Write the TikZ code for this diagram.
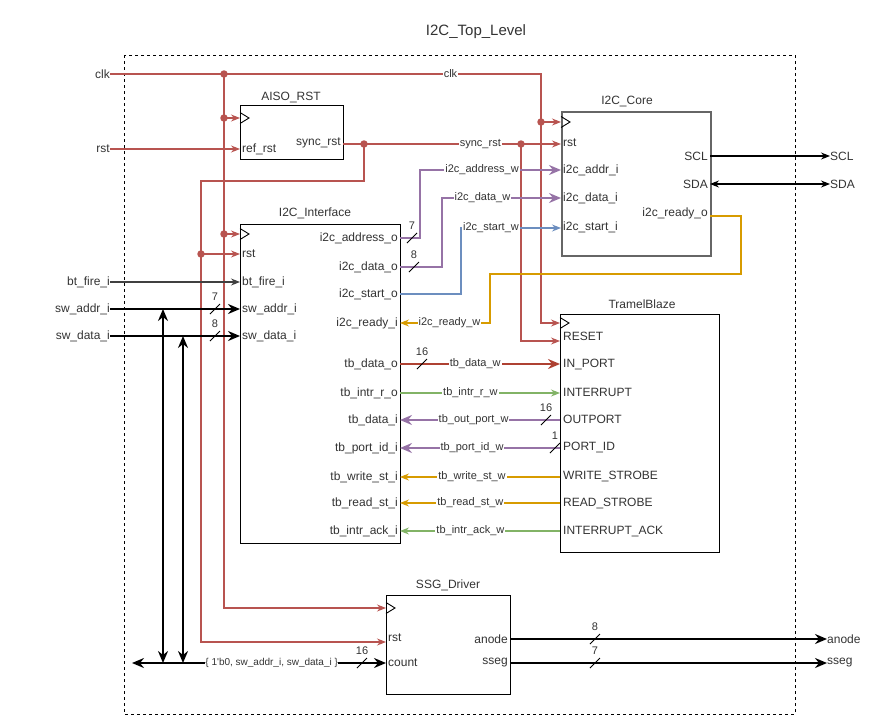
\documentclass[tikz,border=0pt]{standalone}
\usepackage{fontspec}
\setmainfont{Liberation Sans}
\usetikzlibrary{arrows.meta}

\definecolor{rstred}{HTML}{B85450}
\definecolor{buspurple}{HTML}{9673A6}
\definecolor{busbrown}{HTML}{AE4132}
\definecolor{sigyellow}{HTML}{D79B00}
\definecolor{siggreen}{HTML}{82B366}
\definecolor{sigblue}{HTML}{6C8EBF}
\definecolor{coregray}{HTML}{666666}
\definecolor{inkgray}{HTML}{333333}

% clock input triangle on the left edge of a block (#1: point name)
\newcommand{\clockmark}[1]{\draw[line width=0.9pt,black] ([yshift=5.5pt]#1) -- ([xshift=9pt]#1) -- ([yshift=-5.5pt]#1);}
% bus width slash with its bit count: #1 point, #2 count, #3 node name
\newcommand{\widthmark}[3]{%
  \draw[line width=0.8pt,black] ([shift={(-5,5)}]#1) -- ([shift={(5,-5)}]#1);
  \node[font=\fontsize{11}{12}\selectfont, inner sep=0pt] (#3) at ([shift={(0,-12)}]#1) {#2};}

\begin{document}
\begin{tikzpicture}[x=1pt,y=-1pt,
  every node/.style={text=inkgray},
  blk/.style={draw=black, line width=1pt, fill=white, inner sep=0pt, anchor=north west},
  coreblk/.style={blk, draw=coregray, line width=1.6pt},
  lbl/.style={inner sep=0pt, font=\fontsize{12}{14}\selectfont},
  pinl/.style={lbl, anchor=west},
  pinr/.style={lbl, anchor=east},
  wirelbl/.style={fill=white, inner sep=1pt, font=\fontsize{11}{13}\selectfont},
  sig/.style={line width=1.05pt, -{Stealth[length=9pt,width=7pt,inset=3pt]}},
  sigboth/.style={line width=1.05pt, {Stealth[length=9pt,width=7pt,inset=3pt]}-{Stealth[length=9pt,width=7pt,inset=3pt]}},
  bus/.style={line width=2.6pt, -{Stealth[length=12pt,width=10pt,inset=4pt]}},
  busboth/.style={line width=2.6pt, {Stealth[length=12pt,width=10pt,inset=4pt]}-{Stealth[length=12pt,width=10pt,inset=4pt]}},
  redw/.style={draw=rstred},
  tap/.style={circle, fill=rstred, inner sep=0pt, minimum size=7.5pt},
]
\useasboundingbox (0,0) rectangle (881,726);

% ---------- top level frame ----------
\node[font=\fontsize{15}{18}\selectfont, inner sep=0pt] (toptitle) at (476,32) {I2C\_Top\_Level};
\draw[dash pattern=on 3pt off 3pt, line width=0.9pt] (124,55) rectangle (795,714);

% ---------- blocks ----------
\node[blk, minimum width=103pt, minimum height=54pt] (aiso) at (240,105) {};
\node[blk, minimum width=160pt, minimum height=319pt] (intf) at (240,224) {};
\node[coreblk, minimum width=149pt, minimum height=144pt] (core) at (561,111) {};
\node[blk, minimum width=159pt, minimum height=238pt] (tb) at (560,314) {};
\node[blk, minimum width=124pt, minimum height=99pt] (ssg) at (386,595) {};

\node[lbl] (aisot) at (291,97) {AISO\_RST};
\node[lbl] (intft) at (315,213) {I2C\_Interface};
\node[lbl] (coret) at (627,101) {I2C\_Core};
\node[lbl] (tbt) at (642,304) {TramelBlaze};
\node[lbl] (ssgt) at (448,585) {SSG\_Driver};

% ---------- port points ----------
\coordinate (aiso-clk) at (240,118);
\coordinate (aiso-ref) at (240,149);
\coordinate (aiso-sync) at (343,144);

\coordinate (intf-clk) at (240,234);
\coordinate (intf-rst) at (240,254);
\coordinate (intf-bt) at (240,282);
\coordinate (intf-swa) at (240,309);
\coordinate (intf-swd) at (240,336);
\coordinate (intf-addr) at (400,238);
\coordinate (intf-data) at (400,267);
\coordinate (intf-start) at (400,294);
\coordinate (intf-ready) at (400,323);
\coordinate (intf-tbdo) at (400,364);
\coordinate (intf-tbir) at (400,393);
\coordinate (intf-tbdi) at (400,420);
\coordinate (intf-tbpid) at (400,448);
\coordinate (intf-tbws) at (400,477);
\coordinate (intf-tbrs) at (400,503);
\coordinate (intf-tbia) at (400,531);

\coordinate (core-clk) at (561,122);
\coordinate (core-rst) at (561,144);
\coordinate (core-addr) at (561,170);
\coordinate (core-data) at (561,198);
\coordinate (core-start) at (561,228);
\coordinate (core-scl) at (710,156);
\coordinate (core-sda) at (710,184);
\coordinate (core-ready) at (710,216);

\coordinate (tb-clk) at (560,323);
\coordinate (tb-reset) at (560,341);
\coordinate (tb-in) at (560,364);
\coordinate (tb-intr) at (560,393);
\coordinate (tb-out) at (560,420);
\coordinate (tb-pid) at (560,448);
\coordinate (tb-ws) at (560,477);
\coordinate (tb-rs) at (560,503);
\coordinate (tb-ia) at (560,531);

\coordinate (ssg-clk) at (386,608);
\coordinate (ssg-rst) at (386,642);
\coordinate (ssg-count) at (386,663);
\coordinate (ssg-anode) at (510,639);
\coordinate (ssg-sseg) at (510,663);

% ---------- port names ----------
\node[pinr] (aiso-sync-t) at (341,143) {sync\_rst};
\node[pinl] (aiso-ref-t) at (242,149) {ref\_rst};

\node[pinl] (intf-rst-t) at (242,254) {rst};
\node[pinl] (intf-bt-t) at (242,282) {bt\_fire\_i};
\node[pinl] (intf-swa-t) at (242,309) {sw\_addr\_i};
\node[pinl] (intf-swd-t) at (242,336) {sw\_data\_i};
\node[pinr] (intf-addr-t) at (398,238) {i2c\_address\_o};
\node[pinr] (intf-data-t) at (398,267) {i2c\_data\_o};
\node[pinr] (intf-start-t) at (398,294) {i2c\_start\_o};
\node[pinr] (intf-ready-t) at (398,323) {i2c\_ready\_i};
\node[pinr] (intf-tbdo-t) at (398,364) {tb\_data\_o};
\node[pinr] (intf-tbir-t) at (398,393) {tb\_intr\_r\_o};
\node[pinr] (intf-tbdi-t) at (398,420) {tb\_data\_i};
\node[pinr] (intf-tbpid-t) at (398,448) {tb\_port\_id\_i};
\node[pinr] (intf-tbws-t) at (398,477) {tb\_write\_st\_i};
\node[pinr] (intf-tbrs-t) at (398,503) {tb\_read\_st\_i};
\node[pinr] (intf-tbia-t) at (398,531) {tb\_intr\_ack\_i};

\node[pinl] (core-rst-t) at (563,143) {rst};
\node[pinl] (core-addr-t) at (563,170) {i2c\_addr\_i};
\node[pinl] (core-data-t) at (563,198) {i2c\_data\_i};
\node[pinl] (core-start-t) at (563,227) {i2c\_start\_i};
\node[pinr] (core-scl-t) at (708,156) {SCL};
\node[pinr] (core-sda-t) at (708,184) {SDA};
\node[pinr] (core-ready-t) at (708,213) {i2c\_ready\_o};

\node[pinl] (tb-reset-t) at (563,336) {RESET};
\node[pinl] (tb-in-t) at (563,364) {IN\_PORT};
\node[pinl] (tb-intr-t) at (563,392) {INTERRUPT};
\node[pinl] (tb-out-t) at (563,419) {OUTPORT};
\node[pinl] (tb-pid-t) at (563,447) {PORT\_ID};
\node[pinl] (tb-ws-t) at (563,476) {WRITE\_STROBE};
\node[pinl] (tb-rs-t) at (563,503) {READ\_STROBE};
\node[pinl] (tb-ia-t) at (563,531) {INTERRUPT\_ACK};

\node[pinl] (ssg-rst-t) at (388,638) {rst};
\node[pinl] (ssg-count-t) at (388,663) {count};
\node[pinr] (ssg-anode-t) at (508,639) {anode};
\node[pinr] (ssg-sseg-t) at (508,663) {sseg};

% ---------- top level pins ----------
\node[pinr] (clkin) at (110,74) {clk};
\node[pinr] (rstin) at (110,149) {rst};
\node[pinr] (btin) at (110,282) {bt\_fire\_i};
\node[pinr] (swain) at (110,309) {sw\_addr\_i};
\node[pinr] (swdin) at (110,336) {sw\_data\_i};
\node[pinl] (sclout) at (830,156) {SCL};
\node[pinl] (sdaout) at (830,184) {SDA};
\node[pinl] (anodeout) at (827,639) {anode};
\node[pinl] (ssegout) at (827,663) {sseg};

% ---------- clock and reset nets ----------
\coordinate (jclk) at (224,74);
\coordinate (clkbend) at (541,74);
\coordinate (jaiso) at (224,118);
\coordinate (jintf) at (224,234);
\coordinate (jcore) at (541,122);
\coordinate (jsync1) at (364,144);
\coordinate (jsync2) at (521,144);
\coordinate (rstloop) at (201,181);
\coordinate (jintrst) at (201,254);

\draw[redw, sig] (clkin.east) -- node[wirelbl, pos=0.79] (clklbl) {clk} (clkbend) -- (clkbend |- tb-clk) -- (tb-clk);
\draw[redw, sig] (jclk) -- (jclk |- ssg-clk) -- (ssg-clk);
\draw[redw, sig] (jaiso) -- (aiso-clk);
\draw[redw, sig] (jintf) -- (intf-clk);
\draw[redw, sig] (jcore) -- (core-clk);
\draw[redw, sig] (rstin.east) -- (aiso-ref);
\draw[redw, sig] (aiso-sync) -- node[wirelbl, pos=0.63] (synclbl) {sync\_rst} (core-rst);
\draw[redw, sig] (jsync1) |- (rstloop) |- (ssg-rst);
\draw[redw, sig] (jintrst) -- (intf-rst);
\draw[redw, sig] (jsync2) |- (tb-reset);

\foreach \p in {jclk,jaiso,jintf,jcore,jsync1,jsync2,jintrst}
  \node[tap] (\p-dot) at (\p) {};

% ---------- I2C interface to core ----------
\coordinate (addrjog) at (420,170);
\coordinate (datajog) at (442,198);
\coordinate (startjog) at (461,228);
\coordinate (readyR) at (741,274);
\coordinate (readyL) at (490,323);

\draw[buspurple, bus] (intf-addr) -| (addrjog) -- node[wirelbl, pos=0.44] (addrlbl) {i2c\_address\_w} (core-addr);
\draw[buspurple, bus] (intf-data) -| (datajog) -- node[wirelbl, pos=0.34] (datalbl) {i2c\_data\_w} (core-data);
\draw[sigblue, sig] (intf-start) -| (startjog) -- node[wirelbl, pos=0.3] (startlbl) {i2c\_start\_w} (core-start);
\draw[sigyellow, sig] (core-ready) -| (readyR) -| (readyL) -- node[wirelbl, pos=0.45] (readylbl) {i2c\_ready\_w} (intf-ready);

% ---------- I2C interface and TramelBlaze ----------
\draw[busbrown, bus] (intf-tbdo) -- node[wirelbl, pos=0.47] (tbdolbl) {tb\_data\_w} (tb-in);
\draw[siggreen, sig] (intf-tbir) -- node[wirelbl, pos=0.44] (tbirlbl) {tb\_intr\_r\_w} (tb-intr);
\draw[buspurple, bus] (tb-out) -- node[wirelbl, pos=0.54] (tboutlbl) {tb\_out\_port\_w} (intf-tbdi);
\draw[buspurple, bus] (tb-pid) -- node[wirelbl, pos=0.55] (tbpidlbl) {tb\_port\_id\_w} (intf-tbpid);
\draw[sigyellow, sig] (tb-ws) -- node[wirelbl, pos=0.55] (tbwslbl) {tb\_write\_st\_w} (intf-tbws);
\draw[sigyellow, sig] (tb-rs) -- node[wirelbl, pos=0.56] (tbrslbl) {tb\_read\_st\_w} (intf-tbrs);
\draw[siggreen, sig] (tb-ia) -- node[wirelbl, pos=0.56] (tbialbl) {tb\_intr\_ack\_w} (intf-tbia);

% ---------- board pins ----------
\draw[black!75, sig] (btin.east) -- (intf-bt);
\draw[black, bus] (swain.east) -- (intf-swa);
\draw[black, bus] (swdin.east) -- (intf-swd);
\draw[black, sig] (core-scl) -- (sclout.west);
\draw[black, sigboth] (core-sda) -- (sdaout.west);

% ---------- switch concatenation to the display driver ----------
\coordinate (swa-tap) at (163,309);
\coordinate (swd-tap) at (183,336);
\coordinate (catL) at (132,663);
\draw[black, busboth] (swa-tap) -- (swa-tap |- catL);
\draw[black, busboth] (swd-tap) -- (swd-tap |- catL);
\draw[black, busboth] (catL) -- node[wirelbl, pos=0.55, font=\fontsize{10}{12}\selectfont, inner sep=0.5pt] (catlbl) {\{ 1\textquotesingle b0, sw\_addr\_i, sw\_data\_i \}} (ssg-count);
\draw[black, bus] (ssg-anode) -- (anodeout.west);
\draw[black, bus] (ssg-sseg) -- (ssegout.west);

% ---------- clock triangles ----------
\clockmark{aiso-clk}
\clockmark{intf-clk}
\clockmark{core-clk}
\clockmark{tb-clk}
\clockmark{ssg-clk}

% ---------- bus widths ----------
\widthmark{215,309}{7}{wswa}
\widthmark{215,336}{8}{wswd}
\widthmark{412,238}{7}{waddr}
\widthmark{414,267}{8}{wdata}
\widthmark{422,364}{16}{wtbdo}
\widthmark{546,420}{16}{wtbout}
\widthmark{555,448}{1}{wtbpid}
\widthmark{362,663}{16}{wcat}
\widthmark{595,639}{8}{wanode}
\widthmark{595,663}{7}{wsseg}
\end{tikzpicture}
\end{document}
